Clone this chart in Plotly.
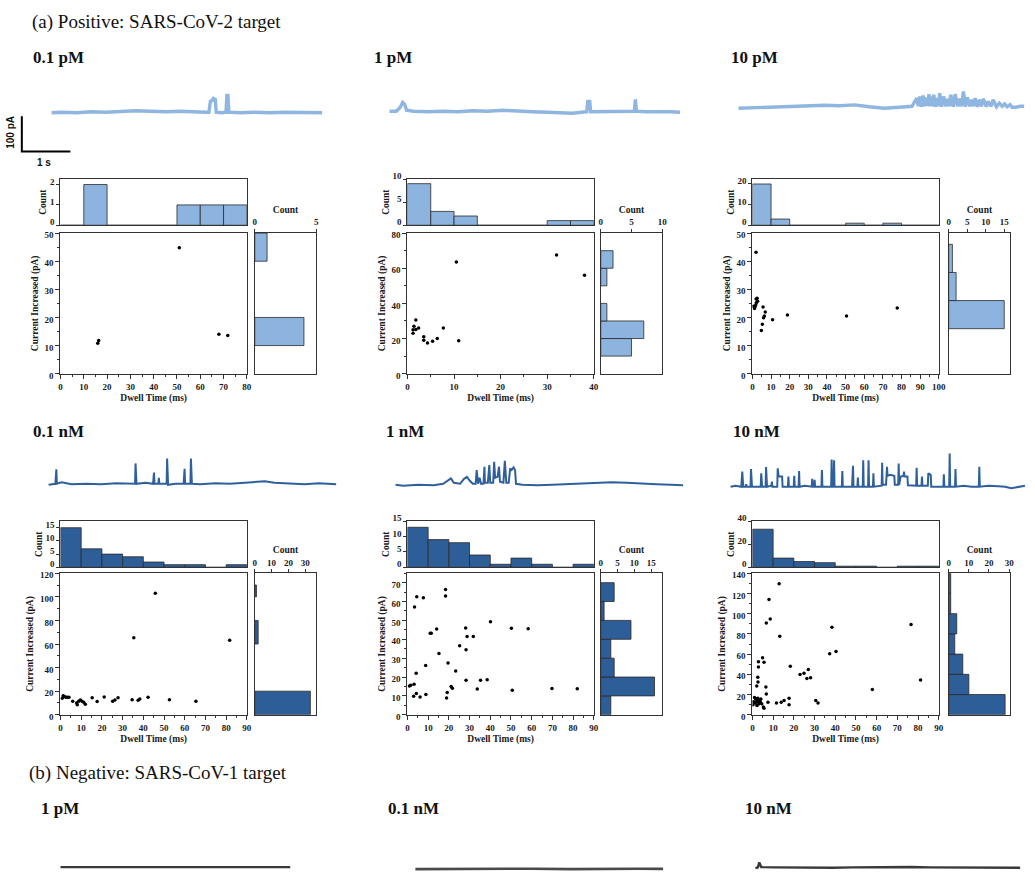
import plotly.graph_objects as go

W, H = 1035, 882

# ------------------------------------------------------------------ data
# scatter events: dwell time (ms) and current increase (pA)
ev_01pM_dwell = [16.0, 16.4, 51.0, 68.0, 71.8]
ev_01pM_curr = [10.8, 11.8, 44.8, 14.0, 13.6]

ev_1pM_dwell = [1.2, 1.2, 1.4, 1.8, 1.8, 2.4, 3.5, 3.5, 4.3, 5.4, 6.4, 7.7, 10.5, 11.0, 32.0, 38.0]
ev_1pM_curr = [23.0, 25.0, 27.0, 25.2, 30.5, 26.0, 21.0, 19.0, 17.5, 18.5, 20.0, 26.0, 63.5, 18.8, 67.5, 56.0]

ev_10pM_dwell = [1.95, 0.5, 1.1, 1.4, 1.8, 2.1, 2.0, 2.5, 2.8, 4.8, 5.3, 5.7, 6.0, 6.4, 6.9, 10.8, 18.8, 50.5, 77.7]
ev_10pM_curr = [43.2, 24.0, 23.2, 23.8, 24.4, 25.2, 26.6, 26.8, 25.8, 15.4, 17.6, 23.7, 19.9, 20.5, 21.9, 19.2, 20.9, 20.5, 23.4]

ev_01nM_dwell = [0.8, 1.3, 1.9, 2.6, 3.3, 4.1, 5.9, 7.8, 8.1, 8.8, 9.6, 10.4, 11.2, 12.0, 15.3, 17.7, 21.1,
                 25.2, 26.3, 27.8, 34.6, 35.4, 37.5, 38.3, 42.3, 45.8, 52.6, 65.4, 81.7]
ev_01nM_curr = [14.0, 16.2, 15.4, 14.8, 14.8, 14.8, 11.4, 10.0, 8.4, 11.4, 12.6, 11.4, 10.6, 8.9, 14.5, 11.2, 15.1,
                11.4, 12.6, 14.5, 12.8, 65.3, 12.3, 13.4, 14.8, 103.0, 12.8, 11.4, 63.1]

ev_1nM_dwell = [0.96, 1.6, 3.2, 3.4, 4.5, 4.2, 3.0, 4.3, 6.1, 7.7, 8.8, 8.9, 11.0, 11.5, 14.1, 15.2, 18.4, 18.4,
                18.9, 19.2, 19.6, 21.1, 21.7, 23.3, 25.2, 28.1, 28.3, 28.3, 28.8, 31.8, 33.7, 35.3, 38.5, 40.1,
                50.2, 50.6, 58.3, 69.8, 82.0]
ev_1nM_curr = [15.3, 15.7, 16.2, 57.1, 62.5, 22.0, 9.8, 11.3, 9.4, 62.0, 26.1, 10.8, 43.2, 43.2, 45.5, 32.4, 66.4,
               62.9, 8.9, 11.8, 27.4, 15.0, 14.1, 23.2, 36.6, 46.0, 34.5, 18.3, 41.5, 41.5, 13.6, 18.3, 18.5, 49.3,
               45.8, 13.0, 45.6, 13.9, 13.8]

ev_10nM_dwell = [12.9, 8.0, 8.6, 6.7, 13.2, 4.9, 5.6, 2.9, 2.9, 18.3, 2.6, 2.7, 2.1, 6.5, 6.7, 23.0, 24.9, 27.0,
                 26.3, 28.1, 37.3, 40.4, 38.4, 76.6, 57.9, 81.2, 1.0, 1.6, 2.1, 2.9, 3.3, 3.8, 4.5, 5.3, 5.6, 2.2,
                 3.2, 2.6, 1.4, 0.6, 4.1, 7.5, 11.6, 13.9, 15.3, 17.7, 17.7, 30.6, 31.7, 0.3]
ev_10nM_curr = [129.6, 114.0, 94.6, 90.7, 77.7, 56.5, 51.9, 52.5, 47.3, 48.0, 37.2, 32.3, 28.4, 27.4, 20.6, 39.8,
                41.1, 44.7, 35.9, 36.6, 60.4, 62.7, 86.5, 89.4, 25.1, 34.3, 17.0, 15.7, 13.7, 12.4, 14.0, 13.0, 10.8,
                7.8, 6.5, 9.1, 10.8, 16.3, 11.7, 13.0, 15.7, 12.4, 11.7, 12.4, 14.0, 16.3, 9.8, 14.0, 11.7, 9.8]

# dwell-time histograms (bins start at 0)
hd_01pM_bin, hd_01pM_counts = 10, [0, 2, 0, 0, 0, 1, 1, 1]
hd_1pM_bin, hd_1pM_counts = 5, [9, 3, 2, 0, 0, 0, 1, 1]
hd_10pM_bin, hd_10pM_counts = 10, [20, 3, 0, 0, 0, 1, 0, 1, 0, 0]
hd_01nM_bin, hd_01nM_counts = 10, [15, 7, 5, 4, 2, 1, 1, 0, 1]
hd_1nM_bin, hd_1nM_counts = 10, [13, 9, 8, 4, 1, 3, 1, 0, 1]
hd_10nM_bin, hd_10nM_counts = 10, [33, 8, 5, 4, 1, 1, 0, 1, 1]

# current histograms: bin low edge, bin high edge, count
hc_01pM_lo, hc_01pM_hi, hc_01pM_counts = [10, 40], [20, 50], [4, 1]
hc_1pM_lo, hc_1pM_hi, hc_1pM_counts = [10, 20, 30, 50, 60], [20, 30, 40, 60, 70], [5, 7, 1, 1, 2]
hc_10pM_lo, hc_10pM_hi, hc_10pM_counts = [16, 26, 36], [26, 36, 46], [15, 2, 1]
hc_01nM_lo, hc_01nM_hi, hc_01nM_counts = [0, 60, 100], [20, 80, 110], [33, 2, 1]
hc_1nM_lo = [0, 10, 20, 30, 40, 50, 60]
hc_1nM_hi = [10, 20, 30, 40, 50, 60, 70]
hc_1nM_counts = [3, 16, 4, 3, 9, 1, 4]
hc_10nM_lo = [0, 20, 40, 60, 80, 100, 120]
hc_10nM_hi = [20, 40, 60, 80, 100, 120, 140]
hc_10nM_counts = [28, 10, 7, 3, 4, 1, 1]

# current traces: time (s) and current change from baseline (pA)
tr_01pM_t = [0, 0.20, 0.51, 0.82, 1.12, 1.43, 1.73, 2.04, 2.35, 2.65, 2.96, 3.16, 3.24, 3.27, 3.31, 3.33, 3.37,
             3.39, 3.51, 3.59, 3.61, 3.63, 3.65, 3.88, 4.18, 4.49, 4.80, 5.10, 5.41, 5.57]
tr_01pM_i = [-1.4, 0, -1.4, 1.4, 0, 2.8, 4.2, 2.8, 1.4, 2.8, 0, 0, 0, 30.6, 33.4, 38.9, 36.1,
             0, -1.4, 0, 47.3, 47.3, 0, -1.4, 0, -1.4, 0, -1.4, -2.8, -1.4]

tr_1pM_t = [0, 0.14, 0.22, 0.27, 0.31, 0.35, 0.49, 0.80, 1.10, 1.41, 1.71, 2.02, 2.33, 2.63, 2.94, 3.24, 3.55,
            3.76, 3.96, 4.06, 4.08, 4.12, 4.14, 4.37, 4.67, 4.98, 5.04, 5.06, 5.08, 5.29, 5.59, 5.80, 5.98]
tr_1pM_i = [0, 0, 11.1, 25.0, 19.5, 2.8, 0, -1.4, 0, -1.4, 1.4, 0, 2.8, 0, -1.4, -2.8, -4.2,
            -5.6, -2.8, -1.4, 27.8, 27.8, -1.4, -1.4, 0, -1.4, 0, 33.4, 0, -1.4, 0, -1.4, -2.8]

tr_10pM_t = [0, 0.24, 0.55, 0.86, 1.16, 1.47, 1.78, 2.08, 2.39, 2.69, 3.0, 3.31, 3.57,
             3.67, 3.70, 3.73, 3.77, 3.80, 3.84, 3.87, 3.90, 3.92, 3.94, 3.97, 3.99, 4.02, 4.05, 4.09, 4.12,
             4.14, 4.18, 4.22, 4.27, 4.31, 4.34, 4.37, 4.42, 4.46, 4.51, 4.55, 4.59, 4.63, 4.67, 4.71, 4.76,
             4.80, 4.84, 4.87, 4.92, 4.96, 5.00, 5.04, 5.10, 5.14, 5.20, 5.24, 5.31, 5.37, 5.43, 5.48, 5.53,
             5.59, 5.63, 5.71, 5.80, 5.88]
tr_10pM_i = [0, 1.4, 1.4, 4.2, 7.0, 7.0, 8.3, 7.0, 9.7, 4.2, 0, 2.8, 5.6,
             28.6, 5.6, 33.4, 4.2, 36.1, 5.6, 30.6, 6.9, 39.8, 5.6, 33.4, 5.6, 38.1, 4.2, 28.6, 5.6,
             42.5, 4.2, 33.4, 5.6, 27.0, 5.6, 38.1, 4.2, 39.8, 5.6, 27.0, 5.6, 47.3, 4.2, 30.6, 5.6,
             24.2, 5.6, 28.6, 4.2, 24.2, 5.6, 27.0, 4.2, 19.5, 5.6, 24.2, 4.2, 14.7, 5.6, 12.0, 4.2,
             10.3, 2.8, 2.8, 5.6, 5.6]

tr_01nM_t = [0, 0.10, 0.14, 0.16, 0.17, 0.27, 0.47, 0.78, 1.08, 1.39, 1.69, 1.78, 1.79, 1.81, 2.00, 2.15, 2.17,
             2.18, 2.26, 2.27, 2.28, 2.43, 2.44, 2.46, 2.61, 2.78, 2.80, 2.81, 2.92, 2.93, 2.95, 3.12, 3.43,
             3.73, 4.04, 4.24, 4.45, 4.65, 4.96, 5.27, 5.57, 5.92]
tr_01nM_i = [-2.8, 0, 0, 40.9, 0, 4.2, -1.4, 0, -1.4, 1.4, 0, 0, 57.5, 0, 2.8, 0, 31.4,
             0, 0, 16.7, 0, 0, 71.4, -2.8, 0, 0, 42.5, 0, 0, 71.4, 0, -1.4, 1.4,
             0, 2.8, 5.6, 7.0, 2.8, 0, -1.4, 1.4, -1.4]

tr_1nM_t = [0, 0.16, 0.47, 0.78, 0.98, 1.08, 1.14, 1.20, 1.33, 1.41, 1.47, 1.53, 1.59, 1.65, 1.67, 1.70, 1.73,
            1.76, 1.81, 1.83, 1.84, 1.90, 1.93, 1.95, 2.01, 2.03, 2.05, 2.10, 2.13, 2.15, 2.22, 2.25, 2.28,
            2.33, 2.35, 2.36, 2.39, 2.43, 2.46, 2.48, 2.61, 2.92, 3.23, 3.53, 3.84, 4.14, 4.45, 4.76, 5.06,
            5.37, 5.67, 5.92]
tr_1nM_i = [0, -2.8, 0, -1.4, 2.8, 11.1, 18.1, 5.6, 2.8, 16.7, 22.2, 11.1, 2.8, 2.8, 41.7, 2.8, 19.5,
            2.8, 2.8, 50.9, 5.6, 5.6, 55.6, 5.6, 5.6, 64.8, 19.5, 22.2, 50.9, 8.3, 5.6, 67.5, 5.6,
            5.6, 46.4, 46.4, 41.7, 49.2, 41.7, 2.8, 0, -1.4, 0, 1.4, 2.8, 5.6, 7.0, 5.6, 2.8,
            1.4, 0, -1.4]

tr_10nM_t = [0, 0.10, 0.22, 0.24, 0.26, 0.31, 0.32, 0.33, 0.41, 0.42, 0.44, 0.62, 0.63, 0.65, 0.72, 0.73, 0.75,
             0.84, 0.85, 0.86, 0.96, 0.97, 0.99, 1.06, 1.07, 1.18, 1.19, 1.20, 1.30, 1.31, 1.32, 1.40, 1.41,
             1.42, 1.53, 1.67, 1.68, 1.69, 1.72, 1.73, 1.74, 1.87, 1.88, 1.89, 2.07, 2.08, 2.09, 2.12, 2.13,
             2.14, 2.29, 2.30, 2.31, 2.50, 2.52, 2.53, 2.61, 2.62, 2.63, 2.72, 2.73, 2.74, 2.83, 2.84, 2.85,
             2.93, 2.94, 2.95, 3.11, 3.12, 3.13, 3.20, 3.21, 3.22, 3.23, 3.28, 3.37, 3.38, 3.45, 3.46, 3.47,
             3.50, 3.56, 3.57, 3.58, 3.64, 3.65, 3.82, 3.83, 3.84, 3.93, 3.94, 3.95, 4.06, 4.07, 4.12, 4.13,
             4.27, 4.38, 4.39, 4.40, 4.50, 4.51, 4.52, 4.62, 4.63, 4.64, 4.80, 4.96, 5.11, 5.12, 5.13, 5.31,
             5.51, 5.65, 5.78, 5.90, 6.06]
tr_10nM_i = [0, 2.8, 0, 42.5, 0, 0, 7.5, 0, 0, 50.0, 0, 0, 38.1, 0, 0, 55.6, 0,
             2.8, 14.7, 0, 0, 52.0, 28.6, 28.6, 0, 0, 28.6, 0, 0, 30.6, 0, 0, 44.5,
             0, 2.8, 0, 22.2, 0, 0, 19.5, 0, 0, 47.3, 0, 0, 77.0, 0, 0, 75.0,
             0, 0, 44.5, 0, 0, 59.2, 0, 0, 25.9, 0, 0, 75.0, 0, 0, 75.0, 0,
             0, 38.1, 0, 2.8, 67.5, 5.6, 5.6, 30.6, 56.4, 30.6, 33.4, 30.6, 5.6, 5.6, 65.9, 5.6,
             28.6, 30.6, 42.5, 28.6, 28.6, 4.2, 2.8, 53.7, 2.8, 2.8, 28.6, 2.8, 2.8, 38.1, 33.4, 0,
             0, 0, 35.3, 0, 0, 93.7, 0, 0, 50.0, 0, 2.8, 0, 0, 56.4, 0, 2.8,
             1.4, 0, -4.2, -1.4, 2.8]

neg_1pM_t = [0, 1.0, 2.0, 3.0, 4.0, 4.73]
neg_1pM_i = [0, 0.5, 0, 0.5, 0, 0]
neg_01nM_t = [0, 0.8, 1.6, 2.4, 3.2, 4.0, 4.6, 5.1]
neg_01nM_i = [0, 1.0, 0, 1.0, 0, 1.5, 1.0, 0.5]
neg_10nM_t = [0, 0.05, 0.08, 0.12, 0.4, 0.8, 1.2, 1.6, 2.0, 2.4, 2.8, 3.2, 3.6, 4.0, 4.4, 4.8, 5.2, 5.45]
neg_10nM_i = [0, 2.0, 16.0, 3.0, 2.0, 1.0, 0, 1.0, 2.0, 3.0, 4.0, 3.0, 2.0, 2.0, 1.0, 2.0, 1.0, 1.0]

scalebar_t = [0, 0, 1]
scalebar_i = [100, 0, 0]

# ------------------------------------------------------------------ style
SERIF = "Liberation Serif"
SANS = "Liberation Sans"
INK = "#1a1a1a"
LIGHT = "#8db4de"
DARK = "#2e5e98"
TRACE_LIGHT = "#8fb6e0"
TRACE_DARK = "#2f609c"
PX_PER_S = 49.0
PX_PER_PA = 0.36
CLEAR = "rgba(0,0,0,0)"

tickf = dict(family=SERIF, size=9, color=INK, weight="bold")
titlef = dict(family=SERIF, size=9.5, color=INK, weight="bold")
frame = dict(showline=True, linecolor="#333333", linewidth=1.1, mirror=True,
             showgrid=False, zeroline=False)

fig = go.Figure()
axes = {}
count = [0]


def new_axes(xpx, ypx, xkw, ykw):
    count[0] += 1
    n = count[0]
    xr = "x" if n == 1 else f"x{n}"
    yr = "y" if n == 1 else f"y{n}"
    axes["xaxis" if n == 1 else f"xaxis{n}"] = dict(
        domain=[xpx[0] / W, xpx[1] / W], anchor=yr, **xkw)
    axes["yaxis" if n == 1 else f"yaxis{n}"] = dict(
        domain=[1 - ypx[1] / H, 1 - ypx[0] / H], anchor=xr, **ykw)
    return xr, yr


def panel(xmain, xright, ytop, yscat, dwell, curr, xmax, xdt, ymax, ydt,
          hbin, hcounts, htop, hdt, clo, chi, ccounts, cmax, cdt, fill):
    # scatter
    xr, yr = new_axes(
        xmain, yscat,
        dict(range=[0, xmax], dtick=xdt, ticks="outside", ticklen=4, tickwidth=1, tickcolor="#333",
             tickfont=tickf, minor=dict(ticks="outside", ticklen=2, dtick=xdt / 2, tickcolor="#333"),
             title=dict(text="Dwell Time (ms)", font=titlef, standoff=3), **frame),
        dict(range=[0, ymax], dtick=ydt, ticks="outside", ticklen=4, tickwidth=1, tickcolor="#333",
             tickfont=tickf, ticklabelshift=2,
             minor=dict(ticks="outside", ticklen=2, dtick=ydt / 2, tickcolor="#333"),
             title=dict(text="Current Increased (pA)", font=titlef, standoff=4), **frame))
    fig.add_trace(go.Scatter(x=dwell, y=curr, mode="markers",
                             marker=dict(size=3.5, color="black"), xaxis=xr, yaxis=yr))
    # top histogram (dwell)
    xr, yr = new_axes(
        xmain, ytop,
        dict(range=[0, xmax], showticklabels=False, ticks="", **frame),
        dict(range=[0, htop], dtick=hdt, ticks="outside", ticklen=3, tickcolor="#333",
             tickfont=tickf, ticklabelshift=-3,
             title=dict(text="Count", font=titlef, standoff=1), **frame))
    centers = [hbin * k + hbin / 2 for k in range(len(hcounts))]
    fig.add_trace(go.Bar(x=centers, y=hcounts, width=[hbin] * len(hcounts),
                         marker=dict(color=fill, line=dict(color="#2a2a2a", width=0.8)),
                         xaxis=xr, yaxis=yr))
    # right histogram (current)
    xr, yr = new_axes(
        xright, yscat,
        dict(range=[0, cmax], dtick=cdt, side="top", ticks="outside", ticklen=3, tickcolor="#333",
             tickfont=tickf, title=dict(text="Count", font=titlef, standoff=2), **frame),
        dict(range=[0, ymax], showticklabels=False, ticks="", **frame))
    fig.add_trace(go.Bar(y=[(a + b) / 2 for a, b in zip(clo, chi)], x=ccounts,
                         width=[b - a for a, b in zip(clo, chi)], orientation="h",
                         marker=dict(color=fill, line=dict(color="#2a2a2a", width=0.8)),
                         xaxis=xr, yaxis=yr))


def trace(t, cur, xstart, base, color, width):
    pad = 4
    tend = max(t)
    right = min(xstart + tend * PX_PER_S + pad, W)
    below = min(8, H - base)
    xr, yr = new_axes(
        [xstart - pad, right], [base - 40, base + below],
        dict(range=[-pad / PX_PER_S, (right - xstart) / PX_PER_S], visible=False),
        dict(range=[-below / PX_PER_PA, 40 / PX_PER_PA], visible=False))
    fig.add_trace(go.Scatter(x=t, y=cur, mode="lines", line=dict(color=color, width=width),
                             xaxis=xr, yaxis=yr))


# ------------------------------------------------------------------ panels
R1_TOP, R1_SC = [174, 221], [229, 372]
R2_TOP, R2_SC = [522, 569], [575, 719]

panel([59, 247], [255, 317], R1_TOP, R1_SC, ev_01pM_dwell, ev_01pM_curr, 80, 10, 50, 10,
      hd_01pM_bin, hd_01pM_counts, 2.27, 1, hc_01pM_lo, hc_01pM_hi, hc_01pM_counts, 5, 5, LIGHT)
panel([409, 597], [604, 666], R1_TOP, R1_SC, ev_1pM_dwell, ev_1pM_curr, 40, 10, 80, 20,
      hd_1pM_bin, hd_1pM_counts, 10, 5, hc_1pM_lo, hc_1pM_hi, hc_1pM_counts, 10, 5, LIGHT)
panel([757, 945], [955, 1017], R1_TOP, R1_SC, ev_10pM_dwell, ev_10pM_curr, 100, 10, 50, 10,
      hd_10pM_bin, hd_10pM_counts, 22.4, 10, hc_10pM_lo, hc_10pM_hi, hc_10pM_counts, 16.6, 5, LIGHT)
panel([59, 247], [255, 317], R2_TOP, R2_SC, ev_01nM_dwell, ev_01nM_curr, 90, 10, 120, 20,
      hd_01nM_bin, hd_01nM_counts, 17.5, 5, hc_01nM_lo, hc_01nM_hi, hc_01nM_counts, 36.5, 10, DARK)
panel([409, 597], [604, 666], R2_TOP, R2_SC, ev_1nM_dwell, ev_1nM_curr, 90, 10, 75, 10,
      hd_1nM_bin, hd_1nM_counts, 15, 5, hc_1nM_lo, hc_1nM_hi, hc_1nM_counts, 18.3, 5, DARK)
panel([757, 945], [955, 1017], R2_TOP, R2_SC, ev_10nM_dwell, ev_10nM_curr, 90, 10, 140, 20,
      hd_10nM_bin, hd_10nM_counts, 40, 20, hc_10nM_lo, hc_10nM_hi, hc_10nM_counts, 30.5, 10, DARK)

# ------------------------------------------------------------------ traces
trace(tr_01pM_t, tr_01pM_i, 50, 106, TRACE_LIGHT, 3.4)
trace(tr_1pM_t, tr_1pM_i, 391, 105, TRACE_LIGHT, 3.4)
trace(tr_10pM_t, tr_10pM_i, 743, 102, TRACE_LIGHT, 3.4)
trace(tr_01nM_t, tr_01nM_i, 47, 484, TRACE_DARK, 2.0)
trace(tr_1nM_t, tr_1nM_i, 397, 485, TRACE_DARK, 2.0)
trace(tr_10nM_t, tr_10nM_i, 735, 487, TRACE_DARK, 2.0)
trace(neg_1pM_t, neg_1pM_i, 59, 874, "#3a3a3a", 2.2)
trace(neg_01nM_t, neg_01nM_i, 417, 876, "#4a4a4a", 2.6)
trace(neg_10nM_t, neg_10nM_i, 760, 875, "#3a3a3a", 2.4)

# scale bar (1 s, 100 pA)
xr, yr = new_axes([16, 74], [104, 152],
                  dict(range=[-4 / PX_PER_S, 54 / PX_PER_S], visible=False),
                  dict(range=[-6 / PX_PER_PA, 42 / PX_PER_PA], visible=False))
fig.add_trace(go.Scatter(x=scalebar_t, y=scalebar_i, mode="lines",
                         line=dict(color="black", width=2), xaxis=xr, yaxis=yr))

# ------------------------------------------------------------------ text
ann = []


def label(text, x, y, size, bold=True, family=SERIF, angle=0, anchor="left"):
    ann.append(dict(text=text, x=x / W, y=1 - y / H, xref="paper", yref="paper",
                    xanchor=anchor, yanchor="middle", showarrow=False, textangle=angle,
                    font=dict(family=family, size=size, color="#111111",
                              weight="bold" if bold else "normal")))


label("(a) Positive: SARS-CoV-2 target", 28, 14, 19, bold=False)
label("(b) Negative: SARS-CoV-1 target", 25, 778, 19, bold=False)
for txt, x in [("0.1 pM", 29), ("1 pM", 373), ("10 pM", 733)]:
    label(txt, x, 50, 17)
for txt, x in [("0.1 nM", 29), ("1 nM", 385), ("10 nM", 735)]:
    label(txt, x, 431, 17)
for txt, x in [("1 pM", 37), ("0.1 nM", 387), ("10 nM", 747)]:
    label(txt, x, 814, 17)
label("100 pA", 9, 126, 10, family=SANS, angle=-90, anchor="center")
label("1 s", 42, 157, 10, family=SANS, anchor="center")

fig.update_layout(
    width=W, height=H, margin=dict(l=0, r=0, t=0, b=0),
    paper_bgcolor="white", plot_bgcolor=CLEAR, showlegend=False,
    annotations=ann, **axes)

fig.write_html("out.html", config={"displayModeBar": False, "staticPlot": True},
               post_script="document.body.style.margin='0px';document.body.style.overflow='hidden';")
